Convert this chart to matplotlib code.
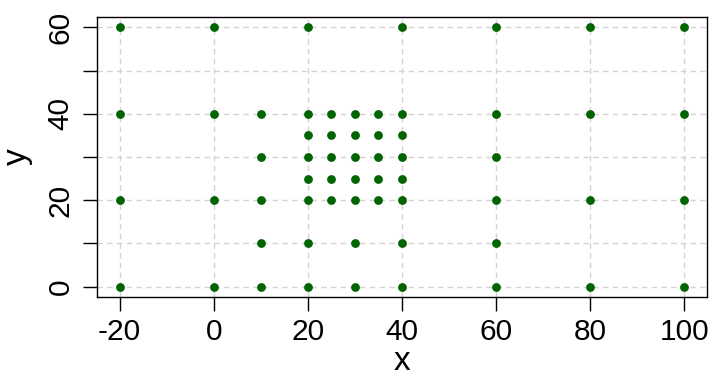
import numpy as np
import matplotlib
matplotlib.use("Agg")
import matplotlib.pyplot as plt

plt.rcParams['font.family'] = ['Liberation Sans', 'DejaVu Sans']

# points, one row of the design per y level
x_pts = [-20, 0, 20, 40, 60, 80, 100,
         -20, 0, 10, 20, 25, 30, 35, 40, 60, 80, 100,
         20, 25, 30, 35, 40,
         10, 20, 25, 30, 35, 40, 60,
         20, 25, 30, 35, 40,
         -20, 0, 10, 20, 25, 30, 35, 40, 60, 80, 100,
         10, 20, 30, 40, 60,
         -20, 0, 10, 20, 30, 40, 60, 80, 100]
y_pts = [60] * 7 + [40] * 11 + [35] * 5 + [30] * 7 + [25] * 5 + [20] * 11 + [10] * 5 + [0] * 9

x_ticks = [-20, 0, 20, 40, 60, 80, 100]
y_ticks = [0, 10, 20, 30, 40, 50, 60]
y_labels = ['0', '', '20', '', '40', '', '60']

fig = plt.figure(figsize=(7.12, 3.79), dpi=100)
ax = fig.add_axes([97 / 712, 1 - 297 / 379, 610 / 712, 280 / 379])

for xv in x_ticks:
    ax.axvline(xv, color='#d3d3d3', lw=1, ls=(0, (4, 3)), zorder=0)
for yv in y_ticks:
    ax.axhline(yv, color='#d3d3d3', lw=1, ls=(0, (4, 3)), zorder=0)

ax.scatter(x_pts, y_pts, s=40, color='#006400', zorder=3, linewidths=0)

ax.set_xlim(-24.8, 104.8)
ax.set_ylim(-2.4, 62.4)
ax.set_xticks(x_ticks)
ax.set_xticklabels([str(v) for v in x_ticks])
ax.set_yticks(y_ticks)
ax.set_yticklabels(y_labels, rotation=90, va='center')

ax.tick_params(axis='both', length=10, width=1, labelsize=21.5, direction='out')
ax.tick_params(axis='x', pad=5)
ax.tick_params(axis='y', pad=6)
for s in ax.spines.values():
    s.set_linewidth(1)

ax.set_xlabel('x', fontsize=24, labelpad=0)
ax.set_ylabel('y', fontsize=24, labelpad=10)

fig.savefig('out.png', dpi=100)
